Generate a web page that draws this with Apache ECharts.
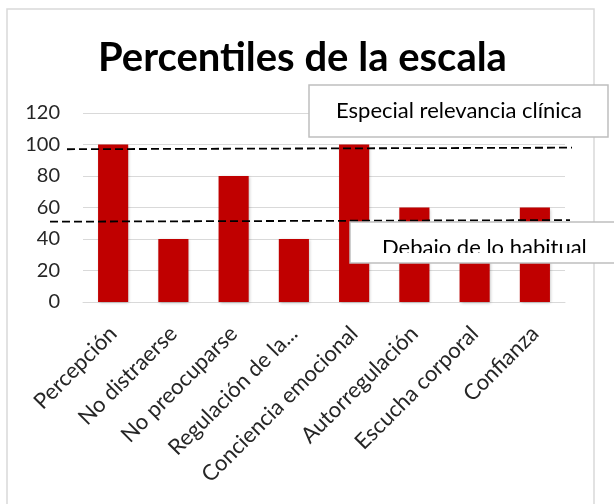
<!DOCTYPE html>
<html>
<head>
<meta charset="utf-8">
<script src="https://cdn.jsdelivr.net/npm/echarts@6/dist/echarts.min.js"></script>
<style>
  html, body { margin: 0; padding: 0; background: #fff; }
  #chart { width: 614px; height: 504px; }
</style>
</head>
<body>
<div id="chart"></div>
<script>
  let categories = ['Percepción', 'No distraerse', 'No preocuparse', 'Regulación de la...',
    'Conciencia emocional', 'Autorregulación', 'Escucha corporal', 'Confianza'];
  let values = [100, 40, 80, 40, 100, 60, 40, 60];
  let yTicks = [0, 20, 40, 60, 80, 100, 120];
  // umbrales (linea discontinua, un poco inclinada en el original)
  let upperLine = [97, 98];
  let lowerLine = [51, 52];

  let font = 'Lato';
  let chart = echarts.init(document.getElementById('chart'));

  let option = {
    animation: false,
    title: {
      text: 'Percentiles de la escala',
      left: 93,
      top: 33,
      textStyle: {
        fontFamily: font,
        fontWeight: 'bold',
        fontSize: 40,
        color: '#000'
      }
    },
    grid: {
      left: 83,
      right: 49,
      top: 113,
      bottom: 202
    },
    xAxis: {
      type: 'category',
      data: categories,
      axisTick: { show: false },
      axisLine: { lineStyle: { color: '#d9d9d9', width: 1 } },
      axisLabel: {
        rotate: 45,
        interval: 0,
        margin: 28,
        color: '#262626',
        fontFamily: font,
        fontSize: 22
      }
    },
    yAxis: {
      type: 'value',
      min: yTicks[0],
      max: yTicks[yTicks.length - 1],
      interval: 20,
      axisLine: { show: false },
      axisTick: { show: false },
      splitLine: { lineStyle: { color: '#d9d9d9', width: 1 } },
      axisLabel: {
        margin: 23,
        color: '#262626',
        fontFamily: font,
        fontSize: 20
      }
    },
    series: [{
      type: 'bar',
      data: values,
      barWidth: '50%',
      clip: false,
      itemStyle: {
        color: '#c00000',
        shadowColor: 'rgba(0,0,0,0.25)',
        shadowBlur: 3,
        shadowOffsetX: 1,
        shadowOffsetY: 1
      },
      markLine: {
        silent: true,
        symbol: 'none',
        label: { show: false },
        lineStyle: { color: '#000', type: [8, 4], width: 1.8 },
        data: [
          [{ x: 67, yAxis: upperLine[0] }, { x: 572, yAxis: upperLine[1] }],
          [{ x: 50, yAxis: lowerLine[0] }, { x: 570, yAxis: lowerLine[1] }]
        ]
      }
    }],
    graphic: [
      {
        type: 'rect',
        z: 0,
        shape: { x: 7, y: 9, width: 587, height: 520 },
        style: { fill: 'none', stroke: '#d9d9d9', lineWidth: 1.5 }
      },
      {
        type: 'rect',
        z: 100,
        shape: { x: 309, y: 85, width: 299, height: 52 },
        style: { fill: '#fff', stroke: '#bfbfbf', lineWidth: 1.5 }
      },
      {
        type: 'text',
        z: 101,
        x: 459,
        y: 111,
        style: {
          text: 'Especial relevancia clínica',
          font: '22px ' + font,
          fill: '#000',
          align: 'center',
          verticalAlign: 'middle'
        }
      },
      {
        type: 'rect',
        z: 100,
        shape: { x: 350, y: 222, width: 280, height: 41 },
        style: { fill: '#fff', stroke: 'none' }
      },
      {
        type: 'text',
        z: 101,
        x: 382,
        y: 248,
        style: {
          text: 'Debajo de lo habitual',
          font: '22px ' + font,
          fill: '#000',
          align: 'left',
          verticalAlign: 'middle'
        }
      },
      {
        // recorte inferior del texto, como en el original
        type: 'rect',
        z: 102,
        shape: { x: 351, y: 253, width: 270, height: 9 },
        style: { fill: '#fff' }
      },
      {
        type: 'rect',
        z: 103,
        shape: { x: 350, y: 222, width: 280, height: 41 },
        style: { fill: 'none', stroke: '#bfbfbf', lineWidth: 1.5 }
      }
    ]
  };

  chart.setOption(option);
  window.addEventListener('resize', function () {
    chart.resize();
  });
</script>
</body>
</html>
